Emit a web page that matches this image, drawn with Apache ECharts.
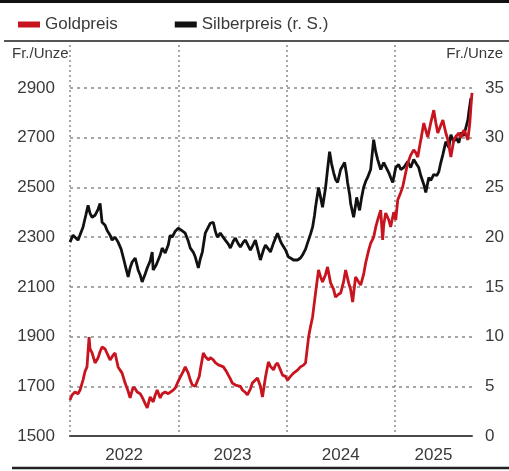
<!DOCTYPE html>
<html><head><meta charset="utf-8">
<script src="https://cdn.jsdelivr.net/npm/echarts@6/dist/echarts.min.js"></script>
<style>html,body{margin:0;padding:0;background:#fff}#c{width:509px;height:471px}</style>
</head><body><div id="c"></div>
<script>
// ---- data (decimal year, value) ----
const seriesNames = ['Goldpreis', 'Silberpreis (r. S.)'];
const unitLabel = 'Fr./Unze';
const yearLabels = [2022, 2023, 2024, 2025];
const xMin = 2022, xMax = 2025.712;
const goldTicks = { min: 1500, interval: 200, lastLabel: 2900 };
const silverTicks = { min: 0, interval: 5, lastLabel: 35 };

const goldPrice = [[2022.000,1645],[2022.019,1665],[2022.046,1677],[2022.074,1670],[2022.093,1685],[2022.120,1725],[2022.139,1760],[2022.157,1778],[2022.176,1898],[2022.185,1850],[2022.204,1834],[2022.231,1794],[2022.259,1814],[2022.278,1840],[2022.296,1858],[2022.324,1850],[2022.342,1854],[2022.370,1806],[2022.398,1825],[2022.416,1834],[2022.444,1778],[2022.463,1765],[2022.481,1753],[2022.509,1713],[2022.537,1680],[2022.555,1653],[2022.583,1697],[2022.602,1690],[2022.620,1677],[2022.648,1670],[2022.666,1657],[2022.694,1630],[2022.713,1613],[2022.740,1657],[2022.768,1637],[2022.787,1665],[2022.805,1685],[2022.833,1653],[2022.851,1670],[2022.879,1677],[2022.907,1670],[2022.925,1665],[2022.953,1685],[2022.972,1693],[2022.999,1720],[2023.018,1737],[2023.046,1760],[2023.064,1778],[2023.092,1753],[2023.111,1725],[2023.129,1705],[2023.157,1700],[2023.175,1697],[2023.194,1740],[2023.203,1766],[2023.231,1834],[2023.249,1820],[2023.277,1806],[2023.296,1815],[2023.323,1806],[2023.342,1795],[2023.370,1786],[2023.388,1790],[2023.416,1778],[2023.444,1760],[2023.462,1745],[2023.481,1730],[2023.499,1713],[2023.527,1705],[2023.545,1697],[2023.573,1700],[2023.592,1685],[2023.620,1675],[2023.638,1665],[2023.666,1690],[2023.684,1713],[2023.712,1725],[2023.731,1733],[2023.758,1700],[2023.777,1657],[2023.805,1737],[2023.832,1798],[2023.851,1780],[2023.879,1766],[2023.897,1785],[2023.916,1794],[2023.943,1766],[2023.962,1745],[2023.990,1740],[2024.008,1725],[2024.036,1740],[2024.064,1753],[2024.101,1765],[2024.128,1778],[2024.156,1785],[2024.175,1794],[2024.203,1898],[2024.221,1940],[2024.240,1979],[2024.267,2075],[2024.295,2168],[2024.314,2140],[2024.332,2120],[2024.360,2150],[2024.378,2180],[2024.406,2116],[2024.434,2090],[2024.452,2059],[2024.480,2070],[2024.499,2075],[2024.526,2120],[2024.545,2168],[2024.573,2116],[2024.591,2090],[2024.610,2039],[2024.637,2140],[2024.665,2120],[2024.684,2107],[2024.711,2150],[2024.730,2196],[2024.758,2248],[2024.776,2275],[2024.804,2300],[2024.823,2340],[2024.841,2369],[2024.869,2409],[2024.887,2289],[2024.897,2350],[2024.915,2397],[2024.943,2370],[2024.961,2341],[2024.989,2400],[2025.008,2369],[2025.026,2449],[2025.054,2480],[2025.072,2502],[2025.100,2560],[2025.119,2598],[2025.146,2630],[2025.174,2651],[2025.193,2640],[2025.211,2622],[2025.239,2691],[2025.267,2759],[2025.285,2730],[2025.304,2703],[2025.331,2760],[2025.359,2811],[2025.378,2760],[2025.396,2719],[2025.424,2750],[2025.443,2771],[2025.470,2720],[2025.489,2691],[2025.517,2622],[2025.544,2691],[2025.563,2705],[2025.591,2719],[2025.609,2700],[2025.637,2731],[2025.655,2715],[2025.674,2691],[2025.692,2760],[2025.702,2824],[2025.712,2880]];

const silverPrice = [[2022.000,19.5],[2022.028,20.2],[2022.046,20.4],[2022.074,19.7],[2022.102,20.5],[2022.120,21.0],[2022.148,22.3],[2022.167,23.2],[2022.185,22.4],[2022.204,22.0],[2022.231,22.2],[2022.259,22.8],[2022.278,23.4],[2022.296,21.5],[2022.324,21.2],[2022.342,20.7],[2022.370,20.2],[2022.389,19.7],[2022.416,20.0],[2022.444,19.5],[2022.472,18.8],[2022.491,18.0],[2022.518,16.8],[2022.537,16.0],[2022.555,16.9],[2022.574,17.5],[2022.602,17.9],[2022.629,16.7],[2022.648,16.2],[2022.666,15.5],[2022.694,16.3],[2022.713,16.9],[2022.740,17.6],[2022.759,18.5],[2022.768,16.7],[2022.796,17.2],[2022.814,17.4],[2022.833,18.2],[2022.851,18.9],[2022.879,18.4],[2022.907,19.2],[2022.925,20.2],[2022.944,20.0],[2022.972,20.6],[2022.999,20.9],[2023.027,20.7],[2023.064,20.4],[2023.092,19.6],[2023.111,18.9],[2023.138,18.5],[2023.157,18.0],[2023.185,16.9],[2023.203,17.8],[2023.222,18.5],[2023.249,20.4],[2023.277,21.0],[2023.296,21.4],[2023.323,21.5],[2023.342,20.6],[2023.360,20.0],[2023.388,20.4],[2023.407,20.1],[2023.434,19.7],[2023.462,19.3],[2023.481,18.9],[2023.508,19.6],[2023.527,19.9],[2023.555,19.3],[2023.573,19.0],[2023.601,19.5],[2023.620,19.7],[2023.647,19.1],[2023.666,18.7],[2023.694,19.3],[2023.712,19.7],[2023.740,18.5],[2023.758,17.7],[2023.786,18.7],[2023.805,19.2],[2023.832,18.8],[2023.851,18.5],[2023.879,19.4],[2023.916,20.4],[2023.943,19.6],[2023.962,19.2],[2023.990,18.7],[2024.017,18.0],[2024.036,17.9],[2024.064,17.7],[2024.101,17.7],[2024.128,17.9],[2024.147,18.2],[2024.175,18.8],[2024.193,19.4],[2024.221,20.3],[2024.240,21.0],[2024.258,22.2],[2024.267,23.0],[2024.295,25.0],[2024.314,24.0],[2024.332,23.0],[2024.360,25.0],[2024.378,26.8],[2024.397,28.6],[2024.415,27.4],[2024.434,26.5],[2024.452,25.8],[2024.471,25.5],[2024.499,26.8],[2024.517,27.0],[2024.536,27.5],[2024.554,26.3],[2024.563,25.5],[2024.582,24.3],[2024.591,23.4],[2024.619,22.0],[2024.637,23.2],[2024.647,24.0],[2024.665,23.1],[2024.674,22.7],[2024.693,24.0],[2024.711,25.0],[2024.730,25.6],[2024.748,26.0],[2024.776,26.8],[2024.804,29.8],[2024.823,28.6],[2024.841,27.8],[2024.869,26.8],[2024.897,27.5],[2024.915,27.3],[2024.943,26.5],[2024.961,26.0],[2024.980,25.5],[2025.008,27.0],[2025.035,27.3],[2025.054,26.8],[2025.082,27.0],[2025.119,27.6],[2025.146,27.0],[2025.174,27.8],[2025.202,27.3],[2025.220,27.0],[2025.239,26.2],[2025.267,25.3],[2025.285,24.5],[2025.313,26.0],[2025.331,25.7],[2025.359,26.3],[2025.387,26.2],[2025.406,26.6],[2025.424,27.5],[2025.443,28.3],[2025.470,29.6],[2025.498,29.0],[2025.517,30.3],[2025.544,29.6],[2025.563,30.0],[2025.591,29.5],[2025.609,30.5],[2025.637,30.2],[2025.655,31.0],[2025.674,31.8],[2025.683,32.6],[2025.702,34.0]];

// ---- chart ----
const FONT = 'Liberation Sans, Arial, sans-serif';
const TXT = '#3a3a3a';
const GOLD = '#c8141e', SILVER = '#111111';
// label positions: middle of the visible part of each year
const yearLabelAt = yearLabels.map(y => (y + Math.min(y + 1, xMax)) / 2);
// axis tops kept in proportion (200 Fr. gold == 5 Fr. silver)
const goldMax = 3073;
const silverMax = (goldMax - goldTicks.min) / goldTicks.interval * silverTicks.interval;

const chart = echarts.init(document.getElementById('c'), null, { renderer: 'canvas' });
chart.setOption({
  animation: false,
  backgroundColor: '#fff',
  textStyle: { fontFamily: FONT },
  grid: { left: 70, right: 37, top: 45, bottom: 35 },
  legend: {
    left: 13, top: 11, itemWidth: 22, itemHeight: 6, itemGap: 57, icon: 'rect',
    textStyle: { fontFamily: FONT, fontSize: 17, color: TXT, padding: [2, 0, 0, 0] },
    data: [{ name: seriesNames[0], itemStyle: { color: GOLD } }, { name: seriesNames[1], itemStyle: { color: SILVER } }]
  },
  xAxis: {
    type: 'value', min: xMin, max: xMax, interval: 1,
    axisLine: { show: true, lineStyle: { color: '#4a4a4a', width: 2 } },
    axisTick: { show: false },
    axisLabel: {
      customValues: yearLabelAt,
      formatter: v => String(Math.floor(v)),
      fontFamily: FONT, fontSize: 17, color: TXT, margin: 11
    },
    splitLine: { show: true, showMaxLine: false, lineStyle: { color: '#8a8a8a', width: 1.5, type: [2, 3] } }
  },
  yAxis: [{
    type: 'value', min: goldTicks.min, max: goldMax, interval: goldTicks.interval,
    axisLine: { show: false }, axisTick: { show: false },
    axisLabel: { fontFamily: FONT, fontSize: 17, color: TXT, margin: 15, showMaxLabel: false,
      formatter: v => (v <= goldTicks.lastLabel ? String(v) : '') },
    splitLine: { show: true, showMinLine: false, showMaxLine: false, lineStyle: { color: '#8a8a8a', width: 1.5, type: [3, 4] } }
  }, {
    type: 'value', min: silverTicks.min, max: silverMax, interval: silverTicks.interval, position: 'right',
    axisLine: { show: false }, axisTick: { show: false },
    axisLabel: { fontFamily: FONT, fontSize: 17, color: TXT, margin: 13, showMaxLabel: false,
      formatter: v => (v <= silverTicks.lastLabel ? String(v) : '') },
    splitLine: { show: false }
  }],
  graphic: [
    { type: 'rect', shape: { x: 0, y: 0, width: 509, height: 3 }, style: { fill: '#111' } },
    { type: 'line', shape: { x1: 4, y1: 41, x2: 509, y2: 41 }, style: { stroke: '#555', lineWidth: 2 } },
    { type: 'line', shape: { x1: 12, y1: 468, x2: 509, y2: 468 }, style: { stroke: '#222', lineWidth: 2.5 } },
    { type: 'text', left: 12, top: 46, style: { text: unitLabel, fontFamily: FONT, fontSize: 15, fill: TXT } },
    { type: 'text', right: 6, top: 46, style: { text: unitLabel, fontFamily: FONT, fontSize: 15, fill: TXT } }
  ],
  series: [{
    name: seriesNames[1], type: 'line', yAxisIndex: 1, data: silverPrice,
    showSymbol: false, lineStyle: { color: SILVER, width: 2.8 }, itemStyle: { color: SILVER }, z: 2
  }, {
    name: seriesNames[0], type: 'line', yAxisIndex: 0, data: goldPrice,
    showSymbol: false, lineStyle: { color: GOLD, width: 2.8 }, itemStyle: { color: GOLD }, z: 3
  }]
});
</script></body></html>
